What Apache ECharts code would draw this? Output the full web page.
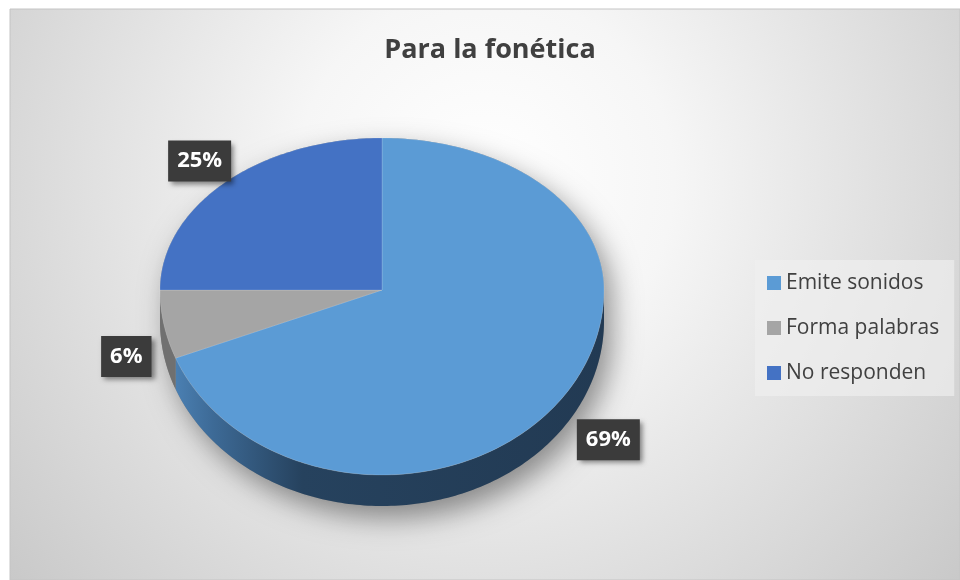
<!DOCTYPE html>
<html>
<head>
<meta charset="utf-8">
<title>Para la fonética</title>
<script src="https://cdn.jsdelivr.net/npm/echarts@6/dist/echarts.min.js"></script>
<style>
  html, body { margin: 0; padding: 0; background: #ffffff; }
  #chart { width: 960px; height: 580px; }
</style>
</head>
<body>
<div id="chart"></div>
<script>
// data
const categories = ["Emite sonidos", "Forma palabras", "No responden"];
const values = [69, 6, 25];
const colors = ["#5b9bd5", "#a5a5a5", "#4472c4"];

const FONT = '"Open Sans", "Noto Sans", sans-serif';

// 3d pie geometry (tilted ellipse, near half a bit taller)
const CX = 382, CY = 290;
const RX = 222, RY_BACK = 152, RY_FRONT = 185;
const DEPTH = 31;
const LABEL_R = 1.2, LABEL_DX = 6, LABEL_DROP = 25;

const total = values.reduce((s, v) => s + v, 0);
const starts = [], ends = [];
values.reduce((acc, v, i) => {
  starts[i] = acc / total * 360;
  ends[i] = (acc + v) / total * 360;
  return acc + v;
}, 0);

// angle in degrees, clockwise from 12 o'clock
function pt(theta, drop, scale) {
  const r = theta * Math.PI / 180;
  const c = Math.cos(r);
  const k = scale || 1;
  const ry = c > 0 ? RY_BACK : RY_FRONT;
  return [CX + k * RX * Math.sin(r), CY - k * ry * c + (drop || 0)];
}
function arc(a, b, drop) {
  const pts = [];
  const n = Math.max(2, Math.ceil(Math.abs(b - a)));
  for (let j = 0; j <= n; j++) pts.push(pt(a + (b - a) * j / n, drop));
  return pts;
}

const sideFill = [
  new echarts.graphic.LinearGradient(CX - RX, 0, CX + RX, 0, [
    { offset: 0, color: "#5088bd" },
    { offset: 0.12, color: "#3d6a96" },
    { offset: 0.32, color: "#26425e" },
    { offset: 1, color: "#223a53" }
  ], true),
  "#707070",
  "#2f5597"
];

function sliceItem(i) {
  return function (params, api) {
    const a = starts[i], b = ends[i];
    const children = [];
    if (i === 0) {
      // soft shadow under the whole pie
      const outline = arc(270, 450, 0).concat(arc(90, 270, DEPTH));
      children.push({
        type: "polygon",
        shape: { points: outline },
        style: {
          fill: "#8a8a8a",
          shadowBlur: 28,
          shadowColor: "rgba(0,0,0,0.42)",
          shadowOffsetX: 8,
          shadowOffsetY: 12
        },
        z2: -5
      });
    }
    const lo = Math.max(a, 90), hi = Math.min(b, 270);
    if (lo < hi) {
      children.push({
        type: "polygon",
        shape: { points: arc(lo, hi, 0).concat(arc(hi, lo, DEPTH)) },
        style: { fill: sideFill[i] },
        z2: 1
      });
    }
    children.push({
      type: "polygon",
      shape: { points: [[CX, CY]].concat(arc(a, b, 0)) },
      style: { fill: colors[i], stroke: "rgba(255,255,255,0.25)", lineWidth: 0.6 },
      z2: 10
    });
    const mid = (a + b) / 2;
    const lp = pt(mid, Math.cos(mid * Math.PI / 180) < 0 ? LABEL_DROP : 0, LABEL_R);
    children.push({
      type: "text",
      x: lp[0] + LABEL_DX,
      y: lp[1],
      style: {
        text: Math.round(api.value(0) / total * 100) + "%",
        fill: "#ffffff",
        font: "bold 22px " + FONT,
        lineHeight: 22,
        align: "center",
        verticalAlign: "middle",
        backgroundColor: "#3b3b3b",
        padding: [10, 9, 9, 9],
        shadowBlur: 5,
        shadowColor: "rgba(0,0,0,0.45)",
        shadowOffsetX: 3,
        shadowOffsetY: 3
      },
      z2: 20
    });
    return { type: "group", children: children };
  };
}

const chart = echarts.init(document.getElementById("chart"));
chart.setOption({
  animation: false,
  backgroundColor: "#ffffff",
  graphic: [
    {
      type: "rect",
      z: -1,
      shape: { x: 10, y: 9, width: 950, height: 571 },
      style: {
        fill: new echarts.graphic.RadialGradient(0.5, 0.3, 1.1, [
          { offset: 0, color: "#ffffff" },
          { offset: 0.3, color: "#f6f6f6" },
          { offset: 1, color: "#c8c8c8" }
        ]),
        stroke: "#c4c4c4",
        lineWidth: 1
      }
    }
  ],
  title: {
    text: "Para la fonética",
    left: 485,
    top: 32,
    textAlign: "center",
    textStyle: { fontFamily: FONT, fontSize: 27, fontWeight: "bold", color: "#404040" }
  },
  legend: {
    data: categories,
    orient: "vertical",
    left: 755,
    top: 260,
    padding: [12, 15, 12, 12],
    itemGap: 23,
    itemWidth: 14,
    itemHeight: 14,
    icon: "rect",
    backgroundColor: "rgba(240,240,240,0.65)",
    selectedMode: false,
    textStyle: { fontFamily: FONT, fontSize: 21, lineHeight: 22, color: "#404040" }
  },
  series: categories.map((name, i) => ({
    type: "custom",
    name: name,
    coordinateSystem: "none",
    itemStyle: { color: colors[i] },
    data: [values[i]],
    renderItem: sliceItem(i)
  }))
});
</script>
</body>
</html>
